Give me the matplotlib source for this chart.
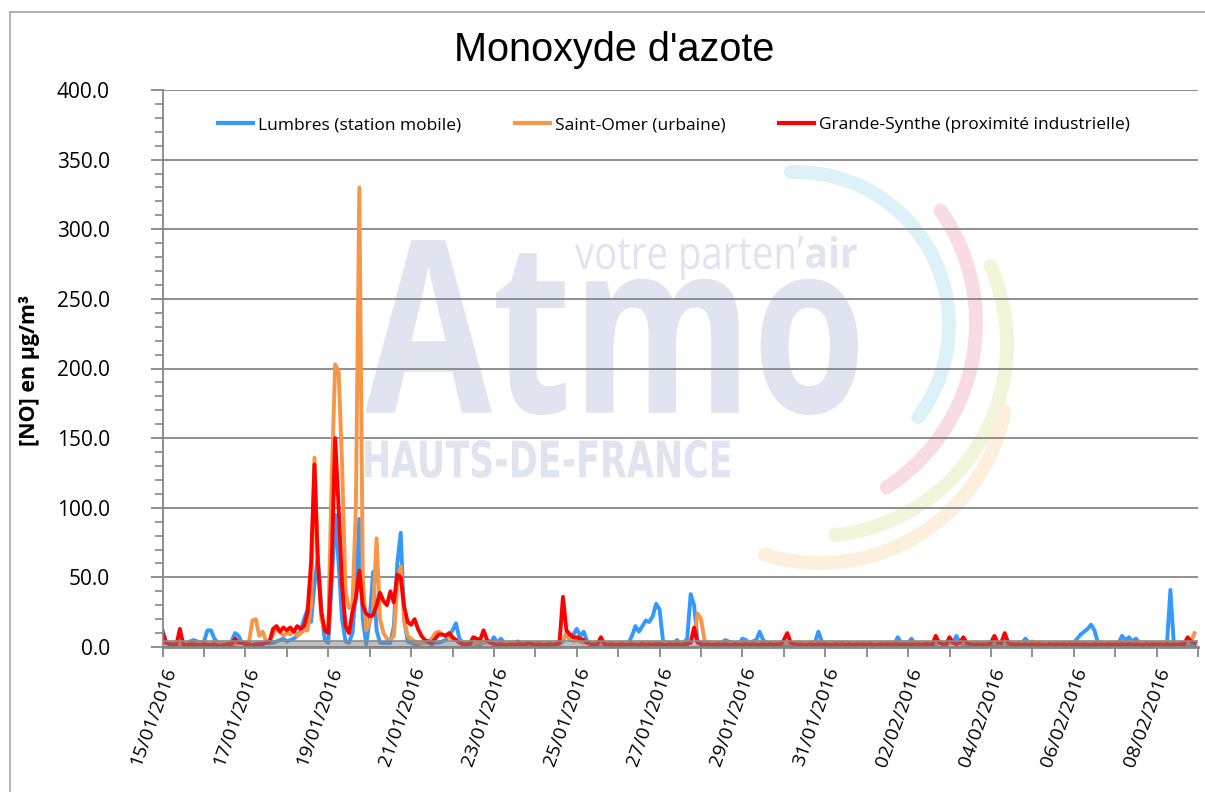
import numpy as np
import matplotlib
matplotlib.use("Agg")
import matplotlib.pyplot as plt
from matplotlib.textpath import TextPath
from matplotlib.patches import PathPatch
from matplotlib.font_manager import FontProperties
from matplotlib.transforms import Affine2D

plt.rcParams['font.family'] = ['Open Sans', 'DejaVu Sans']

# hourly NO values, one point every 2 hours, one row per day from 15/01/2016
lumbres = [
    12, 4, 2, 1.5, 1, 1.5, 2, 2, 4, 5, 4, 3,          # 15/01
    4, 12, 12, 6, 3, 2, 2, 2.5, 4, 10, 8, 3,          # 16/01
    2, 2, 1.5, 2, 2, 3, 3, 2.5, 3, 4, 5, 6,           # 17/01
    4, 5, 6, 8, 12, 20, 27, 18, 45, 65, 25, 5,        # 18/01
    3, 45, 95, 60, 20, 4, 3, 10, 40, 92, 20, 2,       # 19/01
    20, 54, 12, 3, 3, 3, 3, 15, 60, 82, 20, 4,        # 20/01
    3, 2, 2, 2.5, 3, 3, 2, 3, 3, 4, 5, 8,             # 21/01
    12, 17, 6, 3, 2, 2, 2.5, 2, 2, 3, 4, 3,           # 22/01
    7, 3, 6, 3, 2, 2, 3, 4, 2, 2, 2, 2,               # 23/01
    2, 2, 2.5, 3, 2, 2, 2, 2, 4, 10, 5, 9,            # 24/01
    13, 8, 11, 4, 3, 2, 2, 2.5, 2, 2, 2, 2,           # 25/01
    2, 2, 2, 3, 8, 15, 11, 15, 19, 18, 22, 31,        # 26/01
    27, 4, 3, 2, 2, 5, 3, 3, 6, 38, 30, 4,            # 27/01
    3, 3, 3, 2, 2, 3, 3, 5, 4, 3, 2, 2,               # 28/01
    6, 5, 3, 4, 5, 11, 5, 3, 2, 2, 2.5, 2,            # 29/01
    2, 2, 2, 2.5, 2, 2, 2, 2, 3, 3, 11, 4,            # 30/01
    3, 2, 2, 2, 2.5, 2, 2, 2, 2, 2, 2, 2,             # 31/01
    2, 2, 2, 2, 2, 2.5, 2, 2, 2, 7, 3, 2,             # 01/02
    3, 6, 2, 2, 2, 2, 2, 2.5, 2, 3, 2, 2,             # 02/02
    3, 3, 8, 3, 2, 2, 2, 2, 2.5, 2, 2, 2,             # 03/02
    2, 2, 2, 2, 2.5, 2, 2, 2, 3, 3, 6, 3,             # 04/02
    2, 2, 2, 2, 2, 2, 2.5, 2, 2, 2, 3, 3,             # 05/02
    3, 6, 9, 11, 13, 16, 12, 3, 2, 2, 2, 2,           # 06/02
    2, 3, 8, 5, 7, 4, 6, 3, 2, 2, 2, 2,               # 07/02
    2, 2, 2, 2, 41, 2, 2, 2, 2, 2, 2, 2,              # 08/02
]

saint_omer = [
    5, 3, 2, 2, 2.5, 2, 2, 3, 3, 2, 2, 3,             # 15/01
    3, 2, 2, 3, 3, 2, 2, 3, 3, 2, 3, 3,               # 16/01
    3, 3, 19, 20, 8, 11, 4, 4, 9, 13, 11, 8,          # 17/01
    10, 9, 12, 8, 10, 12, 12, 30, 136, 60, 20, 12,    # 18/01
    15, 120, 203, 198, 131, 40, 28, 30, 100, 330, 50, 12,  # 19/01
    18, 25, 78, 20, 10, 6, 5, 8, 45, 58, 19, 8,       # 20/01
    6, 4, 3, 3, 3, 4, 6, 10, 11, 9, 8, 7,             # 21/01
    6, 5, 4, 3, 3, 3, 3, 3, 3, 4, 3, 3,               # 22/01
    3, 3, 3, 2.5, 3, 3, 3, 3, 3, 3, 3, 3,             # 23/01
    3, 3, 3, 3, 3, 2.5, 3, 3, 5, 10, 6, 4,            # 24/01
    5, 4, 3, 3, 3, 3, 3, 3, 2.5, 3, 3, 3,             # 25/01
    3, 3, 3, 3, 2.5, 3, 3, 3, 3, 3, 3, 3,             # 26/01
    3, 3, 3, 3, 3, 3, 2.5, 3, 3, 4, 8, 24,            # 27/01
    20, 5, 3, 3, 3, 3, 3, 3, 3, 2.5, 3, 3,            # 28/01
    3, 3, 3, 3, 3, 3, 3, 2.5, 3, 3, 3, 3,             # 29/01
    3, 3, 2.5, 3, 3, 3, 3, 3, 3, 3, 3, 3,             # 30/01
    3, 3, 3, 3, 3, 3, 3, 3, 2.5, 3, 3, 3,             # 31/01
    3, 3, 3, 2.5, 3, 3, 3, 3, 3, 3, 3, 3,             # 01/02
    3, 3, 3, 3, 3, 3, 2.5, 3, 3, 3, 3, 3,             # 02/02
    3, 3, 3, 3, 3, 3, 3, 3, 3, 3, 2.5, 3,             # 03/02
    3, 3, 3, 3, 3, 3, 3, 3, 3, 3, 3, 3,               # 04/02
    4, 3, 3, 3, 2.5, 3, 3, 3, 3, 3, 3, 3,             # 05/02
    3, 3, 3, 3, 3, 3, 3, 3, 3, 2.5, 3, 3,             # 06/02
    3, 3, 3, 3, 3, 3, 3, 3, 3, 3, 3, 3,               # 07/02
    3, 3, 3, 3, 3, 3, 3, 3, 3, 3, 4, 10,              # 08/02
]

grande_synthe = [
    10, 3, 2, 2, 1.5, 13, 1.5, 1.5, 2, 2, 1.5, 1.5,   # 15/01
    2, 1.5, 1.5, 2, 1, 1, 1.5, 2, 2, 6, 3, 3,         # 16/01
    2, 2, 1.5, 2, 2, 2, 3, 4, 13, 15, 11, 14,         # 17/01
    12, 14, 11, 15, 13, 15, 25, 60, 131, 60, 25, 12,  # 18/01
    10, 60, 150, 100, 45, 15, 10, 25, 35, 55, 30, 24,  # 19/01
    22, 23, 30, 39, 33, 30, 40, 32, 52, 50, 29, 18,   # 20/01
    16, 20, 13, 8, 5, 4, 3, 6, 9, 9, 8, 10,           # 21/01
    7, 5, 3, 2, 2, 2, 7, 6, 5, 12, 5, 3,              # 22/01
    2, 1.5, 2, 1.5, 1.5, 2, 1.5, 2, 2, 1.5, 3, 2,     # 23/01
    1.5, 2, 1.5, 1.5, 2, 1.5, 2, 3, 36, 12, 9, 7,     # 24/01
    7, 6, 5, 3, 2, 1.5, 2, 7, 2, 1.5, 2, 1.5,         # 25/01
    1.5, 2, 1.5, 1.5, 2, 1.5, 1.5, 2, 1.5, 2, 1.5, 2,  # 26/01
    2, 1.5, 1.5, 2, 1.5, 2, 1.5, 2, 2, 3, 14, 3,      # 27/01
    2, 1.5, 2, 1.5, 1.5, 2, 1.5, 2, 1.5, 1.5, 2, 1.5,  # 28/01
    1.5, 2, 1.5, 2, 1.5, 1.5, 2, 1.5, 2, 1.5, 2, 1.5,  # 29/01
    5, 10, 3, 2, 1.5, 2, 1.5, 1.5, 2, 1.5, 2, 1.5,    # 30/01
    2, 1.5, 1.5, 2, 1.5, 2, 1.5, 2, 1.5, 2, 1.5, 2,   # 31/01
    1.5, 2, 1.5, 1.5, 2, 1.5, 2, 1.5, 2, 2, 1.5, 2,   # 01/02
    1.5, 2, 1.5, 2, 1.5, 2, 2, 1.5, 8, 3, 2, 1.5,     # 02/02
    7, 3, 2, 3, 7, 3, 2, 1.5, 2, 1.5, 2, 1.5,         # 03/02
    3, 8, 3, 3, 10, 3, 2, 1.5, 2, 1.5, 2, 1.5,        # 04/02
    2, 1.5, 2, 1.5, 1.5, 2, 1.5, 2, 1.5, 2, 1.5, 2,   # 05/02
    1.5, 2, 1.5, 2, 1.5, 1.5, 2, 1.5, 2, 1.5, 2, 1.5,  # 06/02
    2, 1.5, 2, 1.5, 2, 1.5, 2, 1.5, 1.5, 2, 1.5, 2,   # 07/02
    1.5, 2, 1.5, 2, 1.5, 2, 1.5, 2, 2, 7, 4, 3,       # 08/02
]

date_labels = ['15/01/2016', '17/01/2016', '19/01/2016', '21/01/2016', '23/01/2016',
               '25/01/2016', '27/01/2016', '29/01/2016', '31/01/2016', '02/02/2016',
               '04/02/2016', '06/02/2016', '08/02/2016']
series_names = ['Lumbres (station mobile)', 'Saint-Omer (urbaine)',
                'Grande-Synthe (proximité industrielle)']
series_colors = ['#3399ff', '#f79646', '#ff0000']
band_top = 4.5

hours = np.arange(0, 600, 2)

fig = plt.figure(figsize=(12.05, 7.92), dpi=100)

# background layer in pixel coordinates: frame + watermark logo
bg = fig.add_axes([0, 0, 1, 1], zorder=0)
bg.set_xlim(0, 1205)
bg.set_ylim(792, 0)
bg.axis('off')
bg.plot([10, 10], [792, 12], color='#a6a6a6', lw=1.2)
bg.plot([10, 1205], [12, 12], color='#a6a6a6', lw=1.2)


def logo_text(s, box, weight, color, family='Open Sans'):
    x0, y0, x1, y1 = box
    tp = TextPath((0, 0), s, size=100, prop=FontProperties(family=family, weight=weight))
    ext = tp.get_extents()
    tr = Affine2D().translate(-ext.x0, -ext.y0).scale((x1 - x0) / ext.width,
                                                       -(y1 - y0) / ext.height).translate(x0, y1)
    bg.add_patch(PathPatch(tr.transform_path(tp), fc=color, ec='none'))


def logo_arc(cx, cy, r, a0, a1, color):
    t = np.radians(np.linspace(a0, a1, 120))
    bg.plot(cx + r * np.cos(t), cy - r * np.sin(t), color=color, lw=10, solid_capstyle='round')


logo_col = '#e0e3f0'
logo_text('Atmo', (365, 240, 858, 415), 'bold', logo_col)
logo_text('votre parten\u2019', (575, 236, 803, 280), 'normal', logo_col)
logo_text('air', (806, 236, 857, 268), 'bold', logo_col)
logo_text('HAUTS-DE-FRANCE', (365, 440, 730, 478), 'bold', logo_col, family='Liberation Sans Narrow')
logo_arc(796, 325, 153, 92, -37, '#ddf1f9')
logo_arc(780, 323, 196, 35, -57, '#f9dce1')
logo_arc(815, 344, 192, 24, -84, '#f1f6db')
logo_arc(820, 375, 188, -11, -107, '#fcefdb')

ax = fig.add_axes([162.6 / 1205, 1 - 647 / 792, (1198 - 162.6) / 1205, 557 / 792], zorder=1)
ax.patch.set_alpha(0)

for vals, name, col in zip([lumbres, saint_omer, grande_synthe], series_names, series_colors):
    ax.plot(hours, vals, color=col, lw=2.8, label=name, zorder=2, solid_joinstyle='round')

ax.fill_between([0, 600], 0, band_top, color='#808080', alpha=0.5, lw=0, zorder=3)
ax.axhline(band_top, color='#8c8c8c', lw=1.2, zorder=3)

ax.set_xlim(0, 600)
ax.set_ylim(0, 400)
ax.set_yticks(np.arange(0, 401, 50))
ax.set_yticks(np.arange(0, 401, 10), minor=True)
ax.yaxis.set_major_formatter(plt.FormatStrFormatter('%.1f'))
ax.yaxis.grid(True, color='#868686', lw=1.3, zorder=1)

ax.set_xticks(np.arange(0, 601, 24))
xl = []
for i in range(26):
    xl.append(date_labels[i // 2] if i % 2 == 0 and i // 2 < len(date_labels) else '')
ax.set_xticklabels(xl, rotation=70, ha='right', va='top', rotation_mode='anchor')

for s in ['top', 'right']:
    ax.spines[s].set_visible(False)
ax.spines['left'].set_color('#868686')
ax.spines['left'].set_linewidth(1.3)
ax.spines['bottom'].set_color('#868686')
ax.spines['bottom'].set_linewidth(2)

ax.tick_params(axis='y', which='major', length=9, width=1.3, color='#868686', labelsize=15, pad=29)
ax.tick_params(axis='y', which='minor', length=5.5, width=1.2, color='#868686')
ax.tick_params(axis='x', which='major', length=7, width=1.3, color='#868686', labelsize=14, pad=6)

leg = ax.legend(loc='center', bbox_to_anchor=(0.494, 0.937), ncol=3, frameon=False, fontsize=12.5,
                handlelength=2.0, handletextpad=0.3, columnspacing=3.1)
for h in leg.get_lines():
    h.set_linewidth(3)

fig.text(614 / 1205, 1 - 61 / 792, "Monoxyde d'azote", ha='center', va='baseline',
         fontsize=28.5, family='Liberation Sans')
fig.text(30 / 1205, 1 - 370 / 792, '[NO] en µg/m³', rotation=90, ha='center', va='center',
         fontsize=15.5, weight='bold')

fig.savefig('out.png', dpi=100)
